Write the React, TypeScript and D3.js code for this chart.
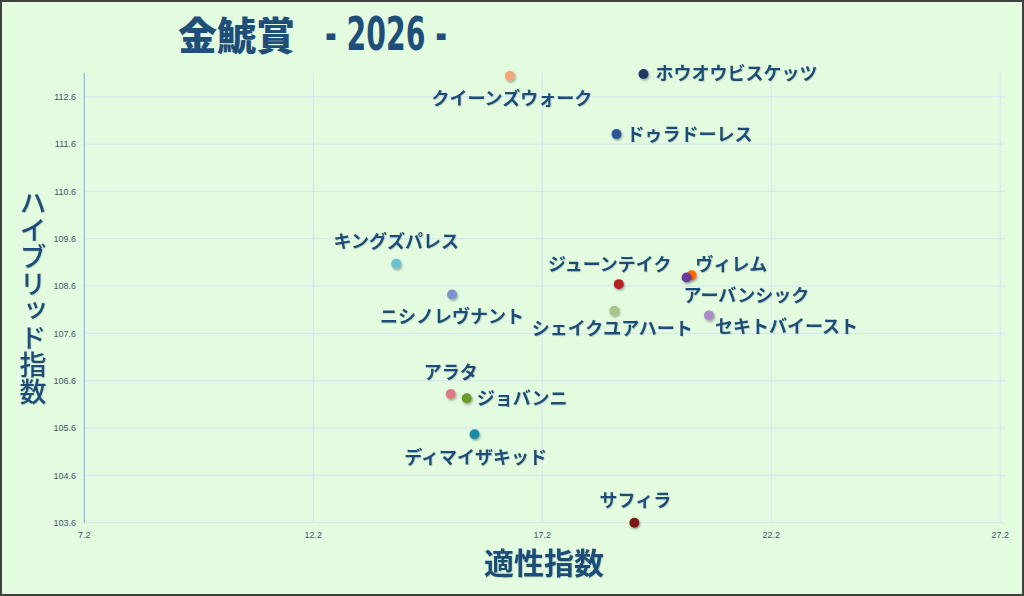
import * as d3 from "d3";

const horses = [
  "ホウオウビスケッツ",
  "クイーンズウォーク",
  "ドゥラドーレス",
  "キングズパレス",
  "ニシノレヴナント",
  "ジューンテイク",
  "ヴィレム",
  "アーバンシック",
  "シェイクユアハート",
  "セキトバイースト",
  "アラタ",
  "ジョバンニ",
  "ディマイザキッド",
  "サフィラ",
];
const aptitude = [19.41, 16.49, 18.82, 14.01, 15.23, 18.87, 20.46, 20.35, 18.77, 20.84, 15.2, 15.55, 15.72, 19.21];
const hybrid = [113.08, 113.04, 111.81, 109.07, 108.42, 108.64, 108.83, 108.78, 108.08, 107.98, 106.32, 106.23, 105.47, 103.6];
const markerColors = [
  "#1f3864", "#f4a878", "#2f5597", "#6ebfd0", "#7b93cc", "#b52222", "#ff6a00",
  "#6a3d9a", "#a9c48a", "#a98cc8", "#e07a86", "#6b9a2a", "#1a8aa8", "#7a1515",
];
const xTicks = [7.2, 12.2, 17.2, 22.2, 27.2];
const yTicks = [103.6, 104.6, 105.6, 106.6, 107.6, 108.6, 109.6, 110.6, 111.6, 112.6];

const titleMain = "金鯱賞";
const titleYear = "- 2026 -";
const xTitle = "適性指数";
const yTitle = "ハイブリッド指数";

// label placement per horse: [anchor, dx, dy] relative to the marker
const labelPlace: ["start" | "middle", number, number][] = [
  ["start", 12, 0],
  ["middle", 2, 23],
  ["start", 10, 0],
  ["middle", 0, -22],
  ["middle", 0, 22],
  ["middle", -9, -20],
  ["start", 4, -11],
  ["start", -3, 18],
  ["middle", -2, 18],
  ["start", 6, 11],
  ["middle", 0, -21],
  ["start", 10, 0],
  ["middle", 1, 23],
  ["middle", 1, -22],
];

const W = 1024;
const H = 596;
const navy = "#1f4e79";

export default function App() {
  const x = d3.scaleLinear().domain([7.2, 27.3]).range([84.3, 84.3 + 20.1 * 45.8]);
  const y = d3.scaleLinear().domain([103.6, 113.1]).range([522.7, 522.7 - 9.5 * 47.33]);
  const [x0, x1] = x.range();
  const [y0, y1] = y.range();

  return (
    <div style={{ position: "absolute", left: 0, top: 0 }}>
      <svg width={W} height={H} style={{ display: "block" }}>
        <defs>
          <filter id="dot-shadow" x="-50%" y="-50%" width="200%" height="200%">
            <feDropShadow dx="1" dy="1.5" stdDeviation="1" floodColor="#000" floodOpacity="0.35" />
          </filter>
          <filter id="txt-shadow" x="-5%" y="-20%" width="110%" height="140%">
            <feDropShadow dx="0.7" dy="0.7" stdDeviation="0.5" floodColor="#000" floodOpacity="0.18" />
          </filter>
        </defs>
        <rect x={1} y={1} width={W - 2} height={H - 2} fill="#e3fce0" stroke="#404040" strokeWidth={2} />

        {/* grid */}
        {yTicks.map((t) => (
          <line key={"gy" + t} x1={x0} x2={x1} y1={y(t)} y2={y(t)} stroke="#d4e4f6" strokeWidth={1} />
        ))}
        {xTicks.slice(1).map((t) => (
          <line key={"gx" + t} x1={x(t)} x2={x(t)} y1={y0} y2={y1} stroke="#d4e4f6" strokeWidth={1} />
        ))}
        <line x1={x0} x2={x0} y1={y0} y2={y1} stroke="#8fb6ee" strokeWidth={1.2} />

        {/* tick labels */}
        {yTicks.map((t) => (
          <text key={"ty" + t} x={76} y={y(t)} dy="0.35em" textAnchor="end"
            fontFamily="Liberation Sans, Arial, sans-serif" fontSize={9} fill="#44546a">
            {t.toFixed(1)}
          </text>
        ))}
        {xTicks.map((t) => (
          <text key={"tx" + t} x={x(t)} y={535} dy="0.35em" textAnchor="middle"
            fontFamily="Liberation Sans, Arial, sans-serif" fontSize={9} fill="#44546a">
            {t.toFixed(1)}
          </text>
        ))}

        {/* markers */}
        {horses.map((h, i) => (
          <circle key={"c" + h} cx={x(aptitude[i])} cy={y(hybrid[i])} r={5}
            fill={markerColors[i]} filter="url(#dot-shadow)" />
        ))}

        {/* data labels */}
        {horses.map((h, i) => {
          const [anchor, dx, dy] = labelPlace[i];
          return (
            <text key={"l" + h} x={x(aptitude[i]) + dx} y={y(hybrid[i]) + dy} dy="0.36em"
              textAnchor={anchor} fontFamily="Noto Sans CJK JP" fontWeight={600} fontSize={18}
              fill={navy} filter="url(#txt-shadow)">
              {h}
            </text>
          );
        })}

        {/* titles */}
        <text x={178} y={50} fontFamily="Noto Sans CJK JP" fontWeight={900} fontSize={39} fill={navy}>
          {titleMain}
        </text>
        <text x={325} y={50} fontFamily="DejaVu Sans Condensed, DejaVu Sans" fontWeight={700} fontSize={47}
          fill={navy} textLength={122} lengthAdjust="spacingAndGlyphs">
          {titleYear}
        </text>
        <text x={544} y={563} dy="0.36em" textAnchor="middle" fontFamily="Noto Sans CJK JP"
          fontWeight={700} fontSize={30} fill={navy} filter="url(#txt-shadow)">
          {xTitle}
        </text>
        <text x={33} y={297} textAnchor="middle" fontFamily="Noto Sans CJK JP" fontWeight={500}
          fontSize={27} fill={navy} filter="url(#txt-shadow)"
          style={{ writingMode: "vertical-rl", textOrientation: "upright" } as any}>
          {yTitle}
        </text>
      </svg>
    </div>
  );
}
